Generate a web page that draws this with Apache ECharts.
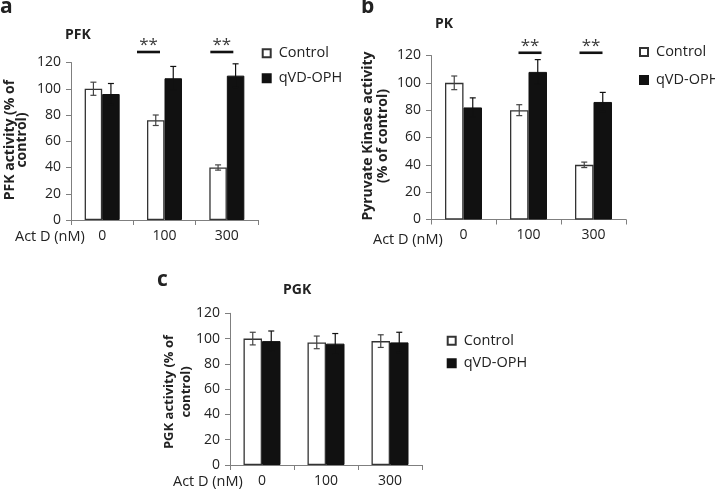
<!DOCTYPE html>
<html><head><meta charset="utf-8">
<script src="https://cdn.jsdelivr.net/npm/echarts@6/dist/echarts.min.js"></script>
<style>html,body{margin:0;padding:0;background:#fff}#c{width:715px;height:491px}</style>
</head><body><div id="c"></div>
<script>
// ---------- data ----------
const categories = ['0', '100', '300'];
const seriesNames = ['Control', 'qVD-OPH'];
const yTicks = [0, 20, 40, 60, 80, 100, 120];

const pfkControl = [100, 76, 40];
const pfkControlErr = [5, 4, 2];
const pfkQvd = [96, 108, 110];
const pfkQvdErr = [8, 9, 9];

const pkControl = [100, 80, 40];
const pkControlErr = [5, 4, 2];
const pkQvd = [82, 108, 86];
const pkQvdErr = [7, 9, 7];

const pgkControl = [100, 97, 98];
const pgkControlErr = [5, 5, 5];
const pgkQvd = [98, 96, 97];
const pgkQvdErr = [8, 8, 8];

// significance marks: [category index, level on value axis]
const pfkSig = [[1, 128], [2, 128]];
const pkSig = [[1, 122], [2, 122]];
const pgkSig = [];
const sigLabel = '**';

// ---------- layout / style ----------
const FONT = '"Open Sans", "DejaVu Sans", sans-serif';
const TXT = '#222';
const AX = '#7f7f7f';
const panels = [
  { grid: { left: 71, top: 62.5, width: 187, height: 157.5 }, c: pfkControl, ce: pfkControlErr, q: pfkQvd, qe: pfkQvdErr, sig: pfkSig, sigDx: [-16, -5], bw: 17.5 },
  { grid: { left: 431, top: 55.5, width: 195, height: 164 }, c: pkControl, ce: pkControlErr, q: pkQvd, qe: pkQvdErr, sig: pkSig, sigDx: [1.5, -2.5], bw: 18.5 },
  { grid: { left: 230, top: 313.3, width: 192, height: 151.7 }, c: pgkControl, ce: pgkControlErr, q: pgkQvd, qe: pgkQvdErr, sig: pgkSig, sigDx: [], bw: 18.5 }
];

function errRender(dx, color) {
  return function (params, api) {
    const c = api.value(0), v = api.value(1), e = api.value(2);
    const t = api.coord([c, v + e]);
    const b = api.coord([c, v - e]);
    const x = t[0] + dx, cap = 3;
    const st = { stroke: color, lineWidth: 1.2 };
    return { type: 'group', children: [
      { type: 'line', shape: { x1: x, y1: t[1], x2: x, y2: b[1] }, style: st },
      { type: 'line', shape: { x1: x - cap, y1: t[1], x2: x + cap, y2: t[1] }, style: st },
      { type: 'line', shape: { x1: x - cap, y1: b[1], x2: x + cap, y2: b[1] }, style: st }
    ] };
  };
}
function sigRender(dxs) {
  return function (params, api) {
    const p = api.coord([api.value(0), api.value(1)]);
    const x = p[0] + (dxs[params.dataIndex] || 0), y = p[1];
    return { type: 'group', children: [
      { type: 'line', shape: { x1: x - 11.5, y1: y, x2: x + 11.5, y2: y }, style: { stroke: '#111', lineWidth: 2.6 } },
      { type: 'text', style: { text: sigLabel, x: x, y: y - 7, textAlign: 'center', textVerticalAlign: 'middle', align: 'center', verticalAlign: 'middle', font: '17px ' + FONT, fill: '#3a3a3a' } }
    ] };
  };
}

const grids = [], xAxes = [], yAxes = [], series = [];
panels.forEach((p, i) => {
  grids.push(Object.assign({ containLabel: false }, p.grid));
  xAxes.push({
    type: 'category', gridIndex: i, data: categories,
    axisLine: { lineStyle: { color: AX, width: 1 } },
    axisTick: { show: true, length: 5, lineStyle: { color: AX } },
    axisLabel: { color: TXT, fontSize: 14, fontFamily: FONT, margin: 9 },
    splitLine: { show: false }
  });
  yAxes.push({
    type: 'value', gridIndex: i, min: yTicks[0], max: yTicks[yTicks.length - 1], interval: yTicks[1] - yTicks[0],
    axisLine: { show: true, lineStyle: { color: AX, width: 1 } },
    axisTick: { show: true, length: 5, lineStyle: { color: AX } },
    axisLabel: { color: TXT, fontSize: 14, fontFamily: FONT, margin: 10 },
    splitLine: { show: false }
  });
  series.push({
    name: seriesNames[0], type: 'bar', xAxisIndex: i, yAxisIndex: i, data: p.c, barWidth: p.bw, barGap: '0%',
    itemStyle: { color: '#ffffff', borderColor: '#333', borderWidth: 1.3 }
  });
  series.push({
    name: seriesNames[1], type: 'bar', xAxisIndex: i, yAxisIndex: i, data: p.q, barWidth: p.bw, barGap: '0%',
    itemStyle: { color: '#111', borderColor: '#111', borderWidth: 1 }
  });
  series.push({
    type: 'custom', xAxisIndex: i, yAxisIndex: i, z: 5, clip: false,
    data: p.c.map((v, k) => [k, v, p.ce[k]]), renderItem: errRender(-p.bw / 2, '#444'), silent: true
  });
  series.push({
    type: 'custom', xAxisIndex: i, yAxisIndex: i, z: 5, clip: false,
    data: p.q.map((v, k) => [k, v, p.qe[k]]), renderItem: errRender(p.bw / 2, '#111'), silent: true
  });
  if (p.sig.length) {
    series.push({
      type: 'custom', xAxisIndex: i, yAxisIndex: i, z: 6, clip: false,
      data: p.sig, renderItem: sigRender(p.sigDx), silent: true
    });
  }
});

function legendAt(left, top, gap) {
  return {
    data: seriesNames, orient: 'vertical', left: left, top: top, padding: 0, itemGap: gap,
    itemWidth: 8, itemHeight: 8, icon: 'rect', selectedMode: false,
    textStyle: { fontSize: 14.5, fontFamily: FONT, color: TXT, lineHeight: 16, padding: [0, 0, 0, 3] }
  };
}

function txt(x, y, text, font, extra) {
  return Object.assign({
    type: 'text', x: x, y: y, silent: true,
    style: Object.assign({ text: text, font: font, fill: TXT, textAlign: 'left', align: 'left', textVerticalAlign: 'middle', verticalAlign: 'middle' }, extra || {})
  });
}
function rtxt(x, y, text, font, lh) {
  return {
    type: 'text', x: x, y: y, rotation: Math.PI / 2, silent: true,
    style: { text: text, font: font, fill: TXT, textAlign: 'center', align: 'center', textVerticalAlign: 'middle', verticalAlign: 'middle', lineHeight: lh }
  };
}

const graphics = [
  txt(0, 7, 'a', 'bold 21px ' + FONT),
  txt(361, 7, 'b', 'bold 21px ' + FONT),
  txt(157, 280, 'c', 'bold 21px ' + FONT),
  txt(65, 35, 'PFK', 'bold 14px ' + FONT),
  txt(435, 24, 'PK', 'bold 14px ' + FONT),
  txt(283, 290, 'PGK', 'bold 14px ' + FONT),
  txt(15, 237, 'Act D (nM)', '14.5px ' + FONT),
  txt(373, 239.5, 'Act D (nM)', '14.5px ' + FONT),
  txt(173, 482, 'Act D (nM)', '14.5px ' + FONT),
  rtxt(16, 140, 'PFK activity (% of\ncontrol)', 'bold 14px ' + FONT, 12.5),
  rtxt(375.5, 136, 'Pyruvate Kinase activity\n(% of control)', 'bold 14px ' + FONT, 15),
  rtxt(177.5, 392, 'PGK activity (% of\ncontrol)', 'bold 13px ' + FONT, 17)
];

const chart = echarts.init(document.getElementById('c'), null, { renderer: 'canvas' });
chart.setOption({
  animation: false,
  backgroundColor: '#ffffff',
  grid: grids, xAxis: xAxes, yAxis: yAxes, series: series,
  legend: [legendAt(261.7, 45.3, 9), legendAt(639, 44, 12), legendAt(446.7, 332.7, 6.6)],
  graphic: graphics
});
</script>
</body></html>
